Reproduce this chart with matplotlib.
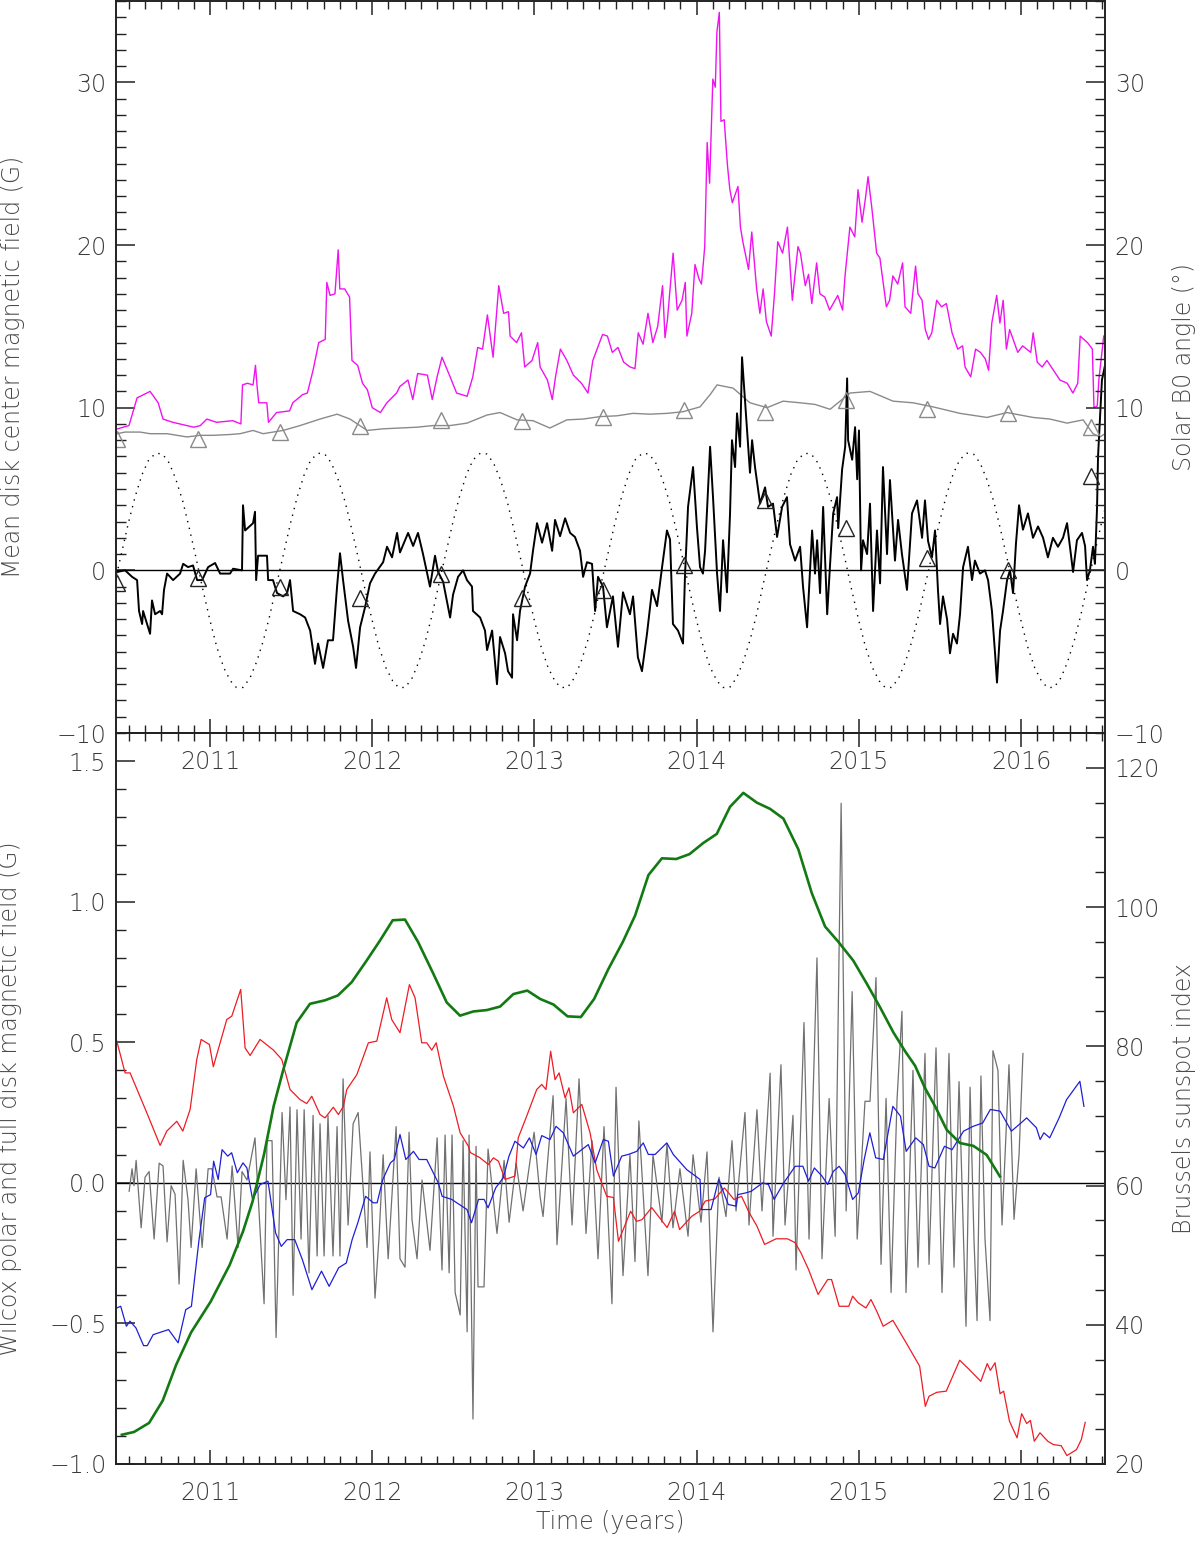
import matplotlib
matplotlib.use('Agg')
import matplotlib.pyplot as plt
from matplotlib.ticker import MultipleLocator, FuncFormatter

plt.rcParams['font.family'] = ['DejaVu Sans']
plt.rcParams['font.weight'] = 'light'
plt.rcParams['axes.labelweight'] = 'light'
plt.rcParams['axes.unicode_minus'] = True

# ---------------- top panel data ----------------
# mean disk center field (magenta)
mag_t = [2010.43, 2010.50, 2010.55, 2010.63, 2010.68, 2010.71, 2010.77, 2010.90, 2010.94, 2010.98,
         2011.04, 2011.14, 2011.19, 2011.20, 2011.23, 2011.265, 2011.28, 2011.29, 2011.30, 2011.35,
         2011.36, 2011.41, 2011.49, 2011.51, 2011.57, 2011.60, 2011.62, 2011.635, 2011.67, 2011.71,
         2011.72, 2011.74, 2011.77, 2011.79, 2011.80, 2011.83, 2011.86, 2011.875, 2011.91, 2011.94,
         2011.97, 2012.00, 2012.05, 2012.09, 2012.15, 2012.17, 2012.22, 2012.25, 2012.28, 2012.34,
         2012.37, 2012.40, 2012.43, 2012.48, 2012.52, 2012.585, 2012.62, 2012.65, 2012.68, 2012.71,
         2012.745, 2012.78, 2012.81, 2012.84, 2012.85, 2012.89, 2012.92, 2012.94, 2012.985, 2013.02,
         2013.035, 2013.08, 2013.11, 2013.13, 2013.16, 2013.20, 2013.24, 2013.29, 2013.33, 2013.36,
         2013.42, 2013.45, 2013.48, 2013.515, 2013.55, 2013.59, 2013.62, 2013.64, 2013.67, 2013.70,
         2013.73, 2013.76, 2013.79, 2013.805, 2013.82, 2013.855, 2013.88, 2013.91, 2013.93, 2013.94,
         2013.97, 2013.99, 2014.015, 2014.03, 2014.05, 2014.065, 2014.08, 2014.10, 2014.115, 2014.125,
         2014.14, 2014.15, 2014.17, 2014.19, 2014.205, 2014.22, 2014.255, 2014.27, 2014.285, 2014.32,
         2014.34, 2014.37, 2014.39, 2014.41, 2014.43, 2014.46, 2014.48, 2014.50, 2014.53, 2014.56,
         2014.59, 2014.625, 2014.64, 2014.67, 2014.69, 2014.71, 2014.74, 2014.76, 2014.79, 2014.82,
         2014.87, 2014.90, 2014.915, 2014.945, 2014.975, 2014.995, 2015.02, 2015.04, 2015.057, 2015.08,
         2015.11, 2015.13, 2015.15, 2015.17, 2015.19, 2015.21, 2015.24, 2015.27, 2015.285, 2015.32,
         2015.35, 2015.365, 2015.39, 2015.41, 2015.43, 2015.45, 2015.48, 2015.51, 2015.54, 2015.575,
         2015.61, 2015.64, 2015.655, 2015.69, 2015.72, 2015.75, 2015.78, 2015.80, 2015.82, 2015.85,
         2015.87, 2015.89, 2015.91, 2015.93, 2015.98, 2016.01, 2016.06, 2016.075, 2016.10, 2016.13,
         2016.16, 2016.20, 2016.24, 2016.285, 2016.32, 2016.35, 2016.365, 2016.41, 2016.44, 2016.45,
         2016.47, 2016.48, 2016.51]
mag_v = [8.7, 8.9, 10.6, 11.0, 10.3, 9.3, 9.1, 8.8, 8.9, 9.3,
         9.1, 9.2, 9.0, 11.4, 11.5, 11.4, 12.6, 11.3, 10.3, 10.3,
         9.1, 9.7, 9.8, 10.3, 10.8, 10.9, 11.7, 12.3, 14.0, 14.2,
         17.7, 16.9, 17.0, 19.7, 17.3, 17.3, 16.8, 12.9, 12.6, 11.5,
         11.1, 10.0, 9.7, 10.3, 10.9, 11.3, 11.7, 10.5, 12.1, 12.0,
         10.5, 11.9, 13.1, 11.9, 10.9, 10.7, 11.9, 13.7, 13.6, 15.7,
         13.1, 17.5, 15.8, 15.9, 14.4, 14.0, 14.6, 12.5, 12.9, 14.0,
         12.5, 11.7, 10.5, 11.9, 13.6, 12.9, 12.0, 11.5, 10.9, 12.9,
         14.5, 14.4, 13.4, 13.7, 12.8, 12.5, 12.4, 14.6, 13.9, 15.8,
         14.0, 15.0, 17.5, 14.3, 15.4, 19.5, 16.0, 16.6, 17.7, 14.4,
         15.8, 18.8, 17.9, 17.6, 19.9, 26.3, 23.8, 30.2, 29.7, 33.1,
         34.3, 27.6, 27.7, 24.9, 23.4, 22.6, 23.6, 21.1, 20.2, 18.5,
         20.8, 17.3, 15.8, 17.3, 15.3, 14.4, 17.0, 20.2, 19.5, 21.1,
         16.6, 19.9, 19.5, 17.5, 18.2, 16.4, 18.9, 17.0, 16.8, 16.0,
         16.9, 16.0, 18.1, 21.1, 20.5, 23.4, 21.4, 22.8, 24.2, 22.3,
         19.5, 19.2, 17.7, 16.2, 16.6, 18.1, 17.6, 18.9, 16.2, 15.8,
         18.7, 17.0, 16.6, 14.8, 14.2, 14.6, 16.6, 16.2, 16.4, 14.6,
         13.6, 13.8, 12.5, 11.9, 13.6, 13.4, 13.0, 12.3, 15.2, 16.9,
         15.2, 16.6, 13.6, 14.8, 13.4, 13.8, 13.4, 14.6, 12.8, 12.5,
         12.9, 12.3, 11.7, 11.5, 10.9, 11.5, 14.4, 14.0, 13.6, 10.0,
         10.1, 11.7, 14.4]

# gray curve near 8-11
gry_t = [2010.427, 2010.476, 2010.568, 2010.630, 2010.735, 2010.858, 2010.938, 2011.018, 2011.123, 2011.185,
         2011.265, 2011.327, 2011.450, 2011.555, 2011.678, 2011.783, 2011.863, 2011.968, 2012.067, 2012.171,
         2012.276, 2012.375, 2012.480, 2012.584, 2012.708, 2012.788, 2012.893, 2012.991, 2013.095, 2013.200,
         2013.300, 2013.404, 2013.509, 2013.608, 2013.713, 2013.817, 2013.916, 2014.021, 2014.083, 2014.126,
         2014.225, 2014.329, 2014.434, 2014.533, 2014.638, 2014.730, 2014.823, 2014.946, 2015.069, 2015.211,
         2015.334, 2015.457, 2015.624, 2015.790, 2015.914, 2016.074, 2016.179, 2016.284, 2016.383, 2016.444,
         2016.487, 2016.518]
gry_v = [8.4, 8.5, 8.5, 8.4, 8.4, 8.2, 8.3, 8.3, 8.35, 8.4,
         8.6, 8.4, 8.6, 8.9, 9.3, 9.6, 9.3, 8.6, 8.7, 8.75,
         8.8, 8.9, 8.9, 9.05, 9.55, 9.7, 9.25, 9.2, 8.75, 9.25,
         9.3, 9.45, 9.5, 9.65, 9.6, 9.65, 9.75, 10.05, 10.8, 11.4,
         11.2, 10.3, 10.0, 10.4, 10.3, 10.2, 9.9, 10.9, 11.0, 10.4,
         10.3, 10.05, 9.65, 9.4, 9.7, 9.4, 9.3, 9.05, 9.25, 8.4,
         8.2, 8.4]

# black curve around zero
blk_t = [2010.427, 2010.476, 2010.519, 2010.550, 2010.562, 2010.581, 2010.587, 2010.630, 2010.642, 2010.661,
         2010.692, 2010.704, 2010.716, 2010.735, 2010.772, 2010.815, 2010.834, 2010.864, 2010.895, 2010.920,
         2010.951, 2010.988, 2011.031, 2011.062, 2011.123, 2011.142, 2011.197, 2011.203, 2011.216, 2011.265,
         2011.277, 2011.284, 2011.296, 2011.351, 2011.358, 2011.388, 2011.413, 2011.450, 2011.475, 2011.493,
         2011.512, 2011.555, 2011.586, 2011.617, 2011.647, 2011.666, 2011.697, 2011.727, 2011.758, 2011.783,
         2011.801, 2011.820, 2011.851, 2011.882, 2011.900, 2011.925, 2011.956, 2011.986, 2012.017, 2012.067,
         2012.091, 2012.122, 2012.153, 2012.171, 2012.221, 2012.252, 2012.282, 2012.313, 2012.356, 2012.387,
         2012.406, 2012.437, 2012.480, 2012.498, 2012.529, 2012.560, 2012.584, 2012.615, 2012.621, 2012.665,
         2012.695, 2012.708, 2012.739, 2012.769, 2012.788, 2012.819, 2012.837, 2012.862, 2012.868, 2012.893,
         2012.911, 2012.942, 2012.973, 2012.991, 2013.016, 2013.047, 2013.078, 2013.109, 2013.127, 2013.158,
         2013.189, 2013.220, 2013.250, 2013.281, 2013.300, 2013.324, 2013.355, 2013.374, 2013.392, 2013.423,
         2013.447, 2013.484, 2013.515, 2013.546, 2013.589, 2013.608, 2013.638, 2013.663, 2013.694, 2013.725,
         2013.756, 2013.787, 2013.817, 2013.836, 2013.854, 2013.885, 2013.916, 2013.928, 2013.947, 2013.978,
         2014.002, 2014.021, 2014.039, 2014.052, 2014.083, 2014.101, 2014.126, 2014.144, 2014.163, 2014.187,
         2014.206, 2014.218, 2014.237, 2014.249, 2014.268, 2014.280, 2014.311, 2014.329, 2014.342, 2014.360,
         2014.391, 2014.422, 2014.440, 2014.471, 2014.496, 2014.527, 2014.557, 2014.576, 2014.607, 2014.638,
         2014.656, 2014.681, 2014.712, 2014.730, 2014.743, 2014.761, 2014.780, 2014.805, 2014.823, 2014.842,
         2014.866, 2014.873, 2014.897, 2014.916, 2014.928, 2014.934, 2014.959, 2014.977, 2014.990, 2015.001,
         2015.014, 2015.026, 2015.051, 2015.069, 2015.088, 2015.112, 2015.131, 2015.149, 2015.174, 2015.192,
         2015.223, 2015.242, 2015.266, 2015.297, 2015.328, 2015.359, 2015.390, 2015.408, 2015.427, 2015.451,
         2015.470, 2015.488, 2015.501, 2015.519, 2015.544, 2015.562, 2015.581, 2015.605, 2015.624, 2015.643,
         2015.673, 2015.698, 2015.716, 2015.747, 2015.778, 2015.797, 2015.821, 2015.840, 2015.852, 2015.871,
         2015.889, 2015.914, 2015.932, 2015.951, 2015.969, 2015.988, 2016.012, 2016.043, 2016.074, 2016.105,
         2016.136, 2016.166, 2016.197, 2016.228, 2016.259, 2016.284, 2016.314, 2016.321, 2016.345, 2016.376,
         2016.395, 2016.407, 2016.425, 2016.444, 2016.456, 2016.469, 2016.475, 2016.499, 2016.518]
blk_v = [-0.1, 0.0, -0.4, -0.6, -2.5, -3.3, -2.5, -3.9, -1.85, -2.7,
         -2.5, -2.7, -1.2, -0.2, -0.6, -0.2, 0.4, 0.2, 0.3, -0.6,
         -0.6, 0.2, 0.45, -0.2, -0.2, 0.1, 0.0, 4.0, 2.45, 2.9,
         3.6, -0.6, 0.9, 0.9, -0.6, -0.6, -1.4, -1.6, -1.4, -0.6,
         -2.5, -2.7, -2.9, -3.7, -5.75, -4.5, -6.0, -4.3, -4.3, -1.0,
         1.05, -0.6, -3.1, -4.7, -6.0, -3.5, -2.25, -0.8, -0.2, 0.5,
         1.45, 0.8, 2.3, 1.1, 2.3, 1.5, 2.3, 1.0, -1.0, 0.9,
         -0.1, -0.7, -2.9, -1.5, -0.4, 0.0, -0.6, -1.0, -2.5, -2.9,
         -3.7, -4.9, -3.7, -7.0, -4.1, -5.1, -6.2, -6.6, -2.7, -4.3,
         -2.5, -1.0, -0.2, 1.2, 2.9, 1.7, 2.9, 1.2, 3.1, 2.1,
         3.2, 2.3, 2.05, 1.2, -0.4, 0.5, 0.4, -2.5, -0.4, -1.0,
         -3.5, -1.6, -4.7, -1.35, -2.7, -1.6, -5.35, -6.2, -3.9, -1.2,
         -2.2, 0.2, 2.45, 1.9, -3.3, -3.7, -4.5, -0.4, 3.9, 6.35,
         2.65, 0.2, -0.2, 1.2, 7.6, 4.5, -0.2, -2.5, 1.85, -1.35,
         3.5, 8.0, 6.35, 9.65, 7.6, 13.1, 8.6, 6.0, 8.0, 6.35,
         4.1, 5.1, 3.9, 4.1, 2.05, 3.9, 4.5, 1.6, 0.6, 1.45,
         -1.0, -3.5, 2.45, -0.2, 1.85, -1.4, 3.9, -2.7, 0.4, 3.5,
         4.5, 2.6, 6.2, 7.6, 11.8, 8.0, 6.8, 8.8, 5.6, 8.6,
         0.0, 1.85, 1.0, 4.1, -2.5, 2.45, -0.8, 6.35, 1.0, 5.55,
         0.6, 3.1, 1.0, -1.2, 3.5, 4.3, 2.0, 4.3, 1.8, 0.8,
         2.45, -1.2, -3.3, -1.6, -3.0, -5.1, -3.9, -4.5, -2.7, 0.2,
         1.45, -0.6, 0.6, -0.2, 0.0, -0.6, -2.5, -5.1, -6.9, -3.7,
         -2.5, -0.6, 0.0, -1.4, 1.65, 4.0, 2.5, 3.5, 2.0, 2.7,
         2.0, 0.8, 2.0, 1.45, 2.0, 2.9, 0.5, -0.1, 1.85, 2.3,
         1.5, -0.6, 0.0, 1.45, 0.4, 3.9, 7.0, 11.7, 12.6]

# triangles (every half year)
tri_t = [2010.427, 2010.927, 2011.430, 2011.925, 2012.424, 2012.924, 2013.423,
         2013.923, 2014.420, 2014.920, 2015.420, 2015.920, 2016.430]
tri_gray = [8.1, 8.1, 8.5, 8.9, 9.25, 9.2, 9.45, 9.85, 9.75, 10.5, 9.9, 9.7, 8.8]
tri_black = [-0.8, -0.5, -1.0, -1.7, -0.25, -1.7, -1.2, 0.3, 4.3, 2.6, 0.75, 0.05, 5.8]

# solar B0 angle (dotted), read twice a month
b0_t = [2010.414, 2010.455, 2010.496, 2010.537, 2010.581, 2010.622, 2010.666, 2010.707, 2010.748, 2010.789,
        2010.833, 2010.874, 2010.915, 2010.956,
        2011.000, 2011.041, 2011.085, 2011.126, 2011.162, 2011.204, 2011.247, 2011.288, 2011.329, 2011.370,
        2011.414, 2011.455, 2011.496, 2011.537, 2011.581, 2011.622, 2011.666, 2011.707, 2011.748, 2011.789,
        2011.833, 2011.874, 2011.915, 2011.956,
        2012.000, 2012.041, 2012.085, 2012.126, 2012.162, 2012.204, 2012.247, 2012.288, 2012.329, 2012.370,
        2012.414, 2012.455, 2012.496, 2012.537, 2012.581, 2012.622, 2012.666, 2012.707, 2012.748, 2012.789,
        2012.833, 2012.874, 2012.915, 2012.956,
        2013.000, 2013.041, 2013.085, 2013.126, 2013.162, 2013.204, 2013.247, 2013.288, 2013.329, 2013.370,
        2013.414, 2013.455, 2013.496, 2013.537, 2013.581, 2013.622, 2013.666, 2013.707, 2013.748, 2013.789,
        2013.833, 2013.874, 2013.915, 2013.956,
        2014.000, 2014.041, 2014.085, 2014.126, 2014.162, 2014.204, 2014.247, 2014.288, 2014.329, 2014.370,
        2014.414, 2014.455, 2014.496, 2014.537, 2014.581, 2014.622, 2014.666, 2014.707, 2014.748, 2014.789,
        2014.833, 2014.874, 2014.915, 2014.956,
        2015.000, 2015.041, 2015.085, 2015.126, 2015.162, 2015.204, 2015.247, 2015.288, 2015.329, 2015.370,
        2015.414, 2015.455, 2015.496, 2015.537, 2015.581, 2015.622, 2015.666, 2015.707, 2015.748, 2015.789,
        2015.833, 2015.874, 2015.915, 2015.956,
        2016.000, 2016.041, 2016.085, 2016.126, 2016.162, 2016.204, 2016.247, 2016.288, 2016.329, 2016.370,
        2016.414, 2016.455, 2016.496, 2016.537, 2016.581]
b0_v = [-0.7, 1.1, 2.9, 4.5, 5.9, 6.8, 7.2, 7.15, 6.6, 5.6,
        4.2, 2.5, 0.7, -1.2,
        -3.1, -4.7, -6.0, -6.8, -7.2, -7.2, -6.6, -5.6, -4.3, -2.7,
        -0.7, 1.1, 2.9, 4.5, 5.9, 6.8, 7.2, 7.15, 6.6, 5.6,
        4.2, 2.5, 0.7, -1.2,
        -3.1, -4.7, -6.0, -6.8, -7.2, -7.2, -6.6, -5.6, -4.3, -2.7,
        -0.7, 1.1, 2.9, 4.5, 5.9, 6.8, 7.2, 7.15, 6.6, 5.6,
        4.2, 2.5, 0.7, -1.2,
        -3.1, -4.7, -6.0, -6.8, -7.2, -7.2, -6.6, -5.6, -4.3, -2.7,
        -0.7, 1.1, 2.9, 4.5, 5.9, 6.8, 7.2, 7.15, 6.6, 5.6,
        4.2, 2.5, 0.7, -1.2,
        -3.1, -4.7, -6.0, -6.8, -7.2, -7.2, -6.6, -5.6, -4.3, -2.7,
        -0.7, 1.1, 2.9, 4.5, 5.9, 6.8, 7.2, 7.15, 6.6, 5.6,
        4.2, 2.5, 0.7, -1.2,
        -3.1, -4.7, -6.0, -6.8, -7.2, -7.2, -6.6, -5.6, -4.3, -2.7,
        -0.7, 1.1, 2.9, 4.5, 5.9, 6.8, 7.2, 7.15, 6.6, 5.6,
        4.2, 2.5, 0.7, -1.2,
        -3.1, -4.7, -6.0, -6.8, -7.2, -7.2, -6.6, -5.6, -4.3, -2.7,
        -0.7, 1.1, 2.9, 4.5, 5.9]

# ---------------- bottom panel data ----------------
# Brussels sunspot index (green, right axis)
ssn_t = [2010.456, 2010.531, 2010.624, 2010.708, 2010.790, 2010.883, 2011.003, 2011.121, 2011.203, 2011.262,
         2011.333, 2011.392, 2011.450, 2011.534, 2011.616, 2011.708, 2011.788, 2011.873, 2011.965, 2012.048,
         2012.126, 2012.202, 2012.282, 2012.375, 2012.459, 2012.541, 2012.623, 2012.706, 2012.788, 2012.870,
         2012.956, 2013.035, 2013.117, 2013.204, 2013.286, 2013.368, 2013.456, 2013.545, 2013.621, 2013.703,
         2013.786, 2013.874, 2013.956, 2014.041, 2014.124, 2014.206, 2014.288, 2014.371, 2014.453, 2014.535,
         2014.627, 2014.710, 2014.792, 2014.874, 2014.966, 2015.049, 2015.131, 2015.213, 2015.285, 2015.347,
         2015.408, 2015.470, 2015.542, 2015.624, 2015.706, 2015.788, 2015.870]
ssn_v = [24.2, 24.6, 25.9, 29.1, 34.2, 38.9, 43.3, 48.6, 53.4, 57.7,
         64.5, 71.4, 76.5, 83.4, 86.1, 86.6, 87.3, 89.2, 92.3, 95.2,
         98.1, 98.2, 95.0, 90.5, 86.3, 84.4, 85.0, 85.2, 85.7, 87.5,
         88.0, 86.8, 86.0, 84.3, 84.2, 86.8, 91.1, 95.0, 98.8, 104.6,
         107.0, 106.9, 107.6, 109.2, 110.5, 114.4, 116.4, 115.0, 114.1, 112.7,
         108.3, 102.0, 97.2, 95.0, 92.3, 89.0, 85.6, 82.0, 79.3, 77.2,
         74.0, 71.4, 68.0, 66.1, 65.7, 64.4, 61.3]

# Wilcox polar field (red)
red_t = [2010.425, 2010.476, 2010.507, 2010.610, 2010.692, 2010.733, 2010.795, 2010.832, 2010.877, 2010.918,
         2010.945, 2010.996, 2011.020, 2011.103, 2011.134, 2011.189, 2011.216, 2011.247, 2011.308, 2011.391,
         2011.442, 2011.493, 2011.555, 2011.596, 2011.627, 2011.678, 2011.709, 2011.760, 2011.791, 2011.822,
         2011.843, 2011.905, 2011.976, 2012.028, 2012.089, 2012.120, 2012.171, 2012.229, 2012.264, 2012.305,
         2012.336, 2012.367, 2012.394, 2012.439, 2012.501, 2012.542, 2012.593, 2012.604, 2012.665, 2012.716,
         2012.747, 2012.778, 2012.819, 2012.880, 2012.900, 2012.952, 2013.014, 2013.045, 2013.071, 2013.100,
         2013.127, 2013.152, 2013.189, 2013.213, 2013.240, 2013.292, 2013.343, 2013.384, 2013.446, 2013.487,
         2013.518, 2013.593, 2013.629, 2013.663, 2013.723, 2013.818, 2013.864, 2013.895, 2013.970, 2014.018,
         2014.053, 2014.112, 2014.171, 2014.230, 2014.277, 2014.325, 2014.372, 2014.419, 2014.490, 2014.560,
         2014.608, 2014.643, 2014.690, 2014.749, 2014.808, 2014.832, 2014.879, 2014.938, 2014.962, 2014.997,
         2015.044, 2015.075, 2015.115, 2015.150, 2015.210, 2015.292, 2015.375, 2015.410, 2015.433, 2015.481,
         2015.539, 2015.622, 2015.681, 2015.752, 2015.792, 2015.811, 2015.840, 2015.871, 2015.893, 2015.929,
         2015.976, 2016.004, 2016.035, 2016.058, 2016.082, 2016.117, 2016.165, 2016.200, 2016.248, 2016.283,
         2016.342, 2016.372, 2016.396]
red_v = [0.504, 0.391, 0.391, 0.249, 0.133, 0.184, 0.219, 0.184, 0.261, 0.439,
         0.510, 0.492, 0.413, 0.581, 0.593, 0.688, 0.480, 0.453, 0.510, 0.472,
         0.439, 0.332, 0.296, 0.282, 0.308, 0.243, 0.231, 0.269, 0.243, 0.272,
         0.332, 0.385, 0.498, 0.504, 0.658, 0.581, 0.534, 0.705, 0.658, 0.498,
         0.498, 0.472, 0.498, 0.379, 0.272, 0.178, 0.130, 0.108, 0.089, 0.065,
         0.089, 0.077, 0.012, 0.024, 0.160, 0.237, 0.332, 0.350, 0.332, 0.468,
         0.367, 0.391, 0.302, 0.338, 0.249, 0.279, 0.178, 0.047, -0.048, -0.052,
         -0.208, -0.101, -0.137, -0.131, -0.088, -0.159, -0.101, -0.166, -0.119, -0.101,
         -0.065, -0.057, -0.018, -0.059, -0.048, -0.107, -0.154, -0.219, -0.199, -0.199,
         -0.213, -0.249, -0.308, -0.397, -0.344, -0.344, -0.439, -0.439, -0.403, -0.427,
         -0.445, -0.415, -0.462, -0.510, -0.489, -0.569, -0.652, -0.795, -0.759, -0.745,
         -0.741, -0.631, -0.664, -0.706, -0.643, -0.667, -0.640, -0.750, -0.741, -0.848,
         -0.907, -0.821, -0.856, -0.845, -0.919, -0.889, -0.919, -0.931, -0.935, -0.970,
         -0.949, -0.913, -0.852]

# Wilcox polar field (blue)
blu_t = [2010.425, 2010.449, 2010.484, 2010.506, 2010.543, 2010.590, 2010.613, 2010.649, 2010.744, 2010.803,
         2010.850, 2010.885, 2010.932, 2010.967, 2011.003, 2011.022, 2011.050, 2011.074, 2011.109, 2011.133,
         2011.168, 2011.203, 2011.227, 2011.262, 2011.309, 2011.357, 2011.404, 2011.439, 2011.475, 2011.522,
         2011.569, 2011.628, 2011.687, 2011.734, 2011.793, 2011.840, 2011.876, 2011.911, 2011.959, 2012.006,
         2012.030, 2012.065, 2012.112, 2012.136, 2012.171, 2012.207, 2012.254, 2012.289, 2012.336, 2012.407,
         2012.431, 2012.490, 2012.537, 2012.584, 2012.612, 2012.655, 2012.690, 2012.714, 2012.761, 2012.808,
         2012.843, 2012.880, 2012.932, 2012.969, 2013.010, 2013.045, 2013.096, 2013.133, 2013.178, 2013.240,
         2013.332, 2013.374, 2013.425, 2013.456, 2013.487, 2013.538, 2013.579, 2013.631, 2013.671, 2013.702,
         2013.744, 2013.816, 2013.856, 2013.939, 2014.021, 2014.029, 2014.089, 2014.136, 2014.195, 2014.243,
         2014.254, 2014.301, 2014.337, 2014.407, 2014.443, 2014.478, 2014.537, 2014.608, 2014.655, 2014.690,
         2014.726, 2014.773, 2014.808, 2014.843, 2014.879, 2014.915, 2014.962, 2014.997, 2015.033, 2015.068,
         2015.104, 2015.151, 2015.210, 2015.257, 2015.292, 2015.351, 2015.398, 2015.433, 2015.469, 2015.528,
         2015.575, 2015.646, 2015.705, 2015.764, 2015.811, 2015.871, 2015.941, 2015.988, 2016.035, 2016.095,
         2016.118, 2016.141, 2016.177, 2016.235, 2016.281, 2016.363, 2016.388]
blu_v = [-0.445, -0.439, -0.510, -0.492, -0.516, -0.579, -0.579, -0.540, -0.522, -0.569,
         -0.451, -0.439, -0.202, -0.053, -0.042, 0.077, 0.012, 0.118, 0.095, 0.107,
         0.036, 0.071, 0.053, -0.059, -0.006, 0.006, -0.178, -0.226, -0.202, -0.202,
         -0.273, -0.380, -0.314, -0.368, -0.302, -0.285, -0.202, -0.142, -0.048, -0.071,
         -0.071, 0.012, 0.071, 0.083, 0.172, 0.083, 0.112, 0.083, 0.083, 0.0,
         -0.048, -0.059, -0.077, -0.095, -0.142, -0.059, -0.059, -0.089, -0.018, 0.018,
         0.095, 0.148, 0.124, 0.160, 0.101, 0.168, 0.154, 0.201, 0.178, 0.095,
         0.136, 0.071, 0.154, 0.148, 0.024, 0.095, 0.101, 0.112, 0.142, 0.101,
         0.101, 0.142, 0.101, 0.047, 0.012, -0.095, -0.095, 0.012, -0.077, -0.083,
         -0.042, -0.036, -0.030, 0.0, -0.006, -0.059, 0.0, 0.059, 0.059, 0.006,
         0.053, 0.024, -0.006, 0.041, 0.059, 0.030, -0.059, -0.036, 0.083, 0.178,
         0.089, 0.083, 0.272, 0.237, 0.112, 0.160, 0.136, 0.059, 0.053, 0.130,
         0.118, 0.184, 0.201, 0.213, 0.261, 0.255, 0.184, 0.207, 0.231, 0.196,
         0.154, 0.178, 0.160, 0.231, 0.296, 0.361, 0.272]

# full disk field (gray)
fd_t = [2010.501, 2010.519, 2010.531, 2010.544, 2010.575, 2010.599, 2010.624, 2010.655, 2010.686, 2010.710,
        2010.735, 2010.760, 2010.784, 2010.809, 2010.834, 2010.864, 2010.883, 2010.914, 2010.951, 2010.988,
        2011.012, 2011.043, 2011.068, 2011.105, 2011.136, 2011.173, 2011.197, 2011.228, 2011.277, 2011.333,
        2011.351, 2011.382, 2011.407, 2011.444, 2011.468, 2011.493, 2011.512, 2011.536, 2011.561, 2011.580,
        2011.610, 2011.635, 2011.660, 2011.678, 2011.703, 2011.727, 2011.758, 2011.783, 2011.801, 2011.820,
        2011.851, 2011.882, 2011.913, 2011.968, 2011.986, 2012.017, 2012.042, 2012.067, 2012.098, 2012.147,
        2012.171, 2012.202, 2012.227, 2012.245, 2012.276, 2012.307, 2012.356, 2012.400, 2012.430, 2012.449,
        2012.474, 2012.492, 2012.511, 2012.542, 2012.560, 2012.585, 2012.597, 2012.621, 2012.640, 2012.652,
        2012.689, 2012.714, 2012.769, 2012.813, 2012.844, 2012.887, 2012.930, 2012.961, 2012.998, 2013.035,
        2013.053, 2013.115, 2013.139, 2013.195, 2013.232, 2013.275, 2013.318, 2013.355, 2013.392, 2013.429,
        2013.478, 2013.503, 2013.546, 2013.589, 2013.620, 2013.644, 2013.700, 2013.731, 2013.786, 2013.817,
        2013.854, 2013.897, 2013.947, 2013.978, 2014.027, 2014.064, 2014.101, 2014.138, 2014.181, 2014.218,
        2014.243, 2014.298, 2014.323, 2014.372, 2014.403, 2014.453, 2014.471, 2014.520, 2014.545, 2014.594,
        2014.613, 2014.662, 2014.693, 2014.742, 2014.773, 2014.817, 2014.854, 2014.891, 2014.922, 2014.959,
        2014.990, 2015.038, 2015.069, 2015.106, 2015.137, 2015.168, 2015.199, 2015.236, 2015.266, 2015.291,
        2015.334, 2015.365, 2015.408, 2015.433, 2015.476, 2015.513, 2015.556, 2015.587, 2015.618, 2015.661,
        2015.686, 2015.710, 2015.729, 2015.753, 2015.778, 2015.809, 2015.827, 2015.858, 2015.883, 2015.926,
        2015.957, 2015.988, 2016.012]
fd_v = [-0.03, 0.05, -0.01, 0.08, -0.16, 0.02, 0.04, -0.20, 0.07, 0.06,
        -0.21, -0.01, -0.04, -0.36, 0.08, -0.06, -0.23, 0.05, -0.23, 0.05,
        0.05, -0.05, -0.05, -0.20, 0.06, -0.23, 0.04, 0.01, 0.16, -0.43,
        0.15, 0.15, -0.55, 0.25, -0.06, 0.27, -0.40, 0.26, -0.20, 0.26,
        -0.32, 0.24, -0.26, 0.21, -0.26, 0.24, -0.26, 0.20, -0.26, 0.37,
        -0.15, 0.21, 0.25, -0.23, 0.11, -0.41, -0.19, 0.10, -0.27, 0.20,
        -0.27, -0.30, 0.18, -0.13, -0.27, 0.01, -0.24, 0.16, -0.31, 0.17,
        -0.32, 0.17, -0.39, -0.47, 0.15, -0.53, 0.17, -0.84, 0.13, -0.37,
        -0.37, 0.12, -0.18, 0.08, -0.14, 0.07, -0.10, 0.03, 0.18, -0.05,
        -0.12, 0.31, -0.22, 0.30, -0.15, 0.37, -0.18, 0.15, -0.27, 0.20,
        -0.43, 0.34, -0.33, 0.10, -0.28, 0.22, -0.33, 0.10, -0.14, 0.14,
        -0.16, 0.05, -0.19, 0.10, -0.14, 0.11, -0.53, 0.02, -0.12, 0.15,
        -0.10, 0.25, -0.15, 0.26, -0.10, 0.39, -0.19, 0.42, -0.15, 0.24,
        -0.31, 0.57, -0.20, 0.80, -0.27, 0.30, -0.19, 1.35, -0.10, 0.68,
        -0.20, 0.29, 0.29, 0.73, -0.29, 0.30, -0.39, 0.30, 0.61, -0.39,
        0.40, -0.30, 0.46, -0.29, 0.48, -0.39, 0.46, -0.30, 0.36, -0.51,
        0.34, -0.20, -0.49, 0.38, -0.20, -0.49, 0.47, 0.40, -0.15, 0.42,
        -0.13, 0.10, 0.46]

# ---------------- figure ----------------
TXT = '#3a3a3a'
LBL = '#4a4a4a'
LINE = '#222222'
FS = 17
XLIM = (2010.42, 2016.518)

fig = plt.figure(figsize=(12, 15.41), dpi=100)
ax1 = fig.add_axes([0.09667, 0.52433, 0.82417, 0.47502])
ax2 = fig.add_axes([0.09667, 0.04997, 0.82417, 0.47437])
ax1r = ax1.twinx()
ax2r = ax2.twinx()

for ax in (ax1, ax2, ax1r, ax2r):
    ax.set_facecolor('none')
    for sp in ax.spines.values():
        sp.set_color(LINE)
        sp.set_linewidth(1.2)
    ax.set_xlim(*XLIM)

year_fmt = FuncFormatter(lambda v, p: '%d' % round(v))

def style_x(ax):
    ax.xaxis.set_major_locator(MultipleLocator(1))
    ax.xaxis.set_minor_locator(MultipleLocator(0.1))
    ax.xaxis.set_major_formatter(year_fmt)
    ax.tick_params(axis='x', which='major', direction='in', length=10, width=1.1,
                   top=True, bottom=True, labelsize=FS, labelcolor=TXT, color=LINE, pad=12)
    ax.tick_params(axis='x', which='minor', direction='in', length=5.5, width=1.0,
                   top=True, bottom=True, color=LINE)

def style_y(ax, side):
    kw = dict(left=(side == 'left'), right=(side == 'right'),
              labelleft=(side == 'left'), labelright=(side == 'right'))
    ax.tick_params(axis='y', which='major', direction='in', length=14, width=1.1,
                   labelsize=FS, labelcolor=TXT, color=LINE, pad=7, **kw)
    ax.tick_params(axis='y', which='minor', direction='in', length=7, width=1.0,
                   color=LINE, left=kw['left'], right=kw['right'])

# ----- top panel -----
ax1.plot(b0_t, b0_v, color='black', lw=1.0, linestyle=(0, (1, 4)))
ax1.axhline(0, color='black', lw=1.0)
ax1.plot(mag_t, mag_v, color='#f012f0', lw=1.0)
ax1.plot(gry_t, gry_v, color='#8a8a8a', lw=1.0)
ax1.plot(blk_t, blk_v, color='black', lw=1.4)
ax1.plot(tri_t, tri_gray, linestyle='none', marker='^', markersize=11,
         markerfacecolor='none', markeredgecolor='#8a8a8a', markeredgewidth=1.0)
ax1.plot(tri_t, tri_black, linestyle='none', marker='^', markersize=11,
         markerfacecolor='none', markeredgecolor='#222222', markeredgewidth=1.0)

for ax in (ax1, ax1r):
    ax.set_ylim(-10, 35)
    ax.yaxis.set_major_locator(MultipleLocator(10))
    ax.yaxis.set_minor_locator(MultipleLocator(1))
style_x(ax1)
style_y(ax1, 'left')
style_y(ax1r, 'right')
ax1.set_ylabel('Mean disk center magnetic field (G)', fontsize=FS, color=LBL, fontweight='light')
ax1.yaxis.set_label_coords(-0.092, 0.5)
ax1r.set_ylabel('Solar B0 angle (°)', fontsize=FS, color=LBL, fontweight='light')
ax1r.yaxis.set_label_coords(1.068, 0.5)

# ----- bottom panel -----
ax2.axhline(0, color='black', lw=1.0)
ax2.plot(fd_t, fd_v, color='#707070', lw=0.9)
ax2.plot(red_t, red_v, color='#ee1c24', lw=0.9)
ax2.plot(blu_t, blu_v, color='#1f1fd6', lw=0.9)
ax2r.plot(ssn_t, ssn_v, color='#137a13', lw=1.9)

ax2.set_ylim(-1.0, 1.6)
ax2.yaxis.set_major_locator(MultipleLocator(0.5))
ax2.yaxis.set_minor_locator(MultipleLocator(0.1))
ax2r.set_ylim(20, 125)
ax2r.yaxis.set_major_locator(MultipleLocator(20))
ax2r.yaxis.set_minor_locator(MultipleLocator(5))
ax2.yaxis.set_major_formatter(FuncFormatter(lambda v, p: ('%.1f' % v).replace('-', '\u2212')))
style_x(ax2)
style_y(ax2, 'left')
style_y(ax2r, 'right')
ax2.set_ylabel('Wilcox polar and full disk magnetic field (G)', fontsize=FS, color=LBL, fontweight='light')
ax2.yaxis.set_label_coords(-0.095, 0.5)
ax2r.set_ylabel('Brussels sunspot index', fontsize=FS, color=LBL, fontweight='light')
ax2r.yaxis.set_label_coords(1.068, 0.5)
ax2.set_xlabel('Time (years)', fontsize=FS, color=LBL, fontweight='light', labelpad=4)

fig.savefig('out.png', dpi=100, facecolor='white')
